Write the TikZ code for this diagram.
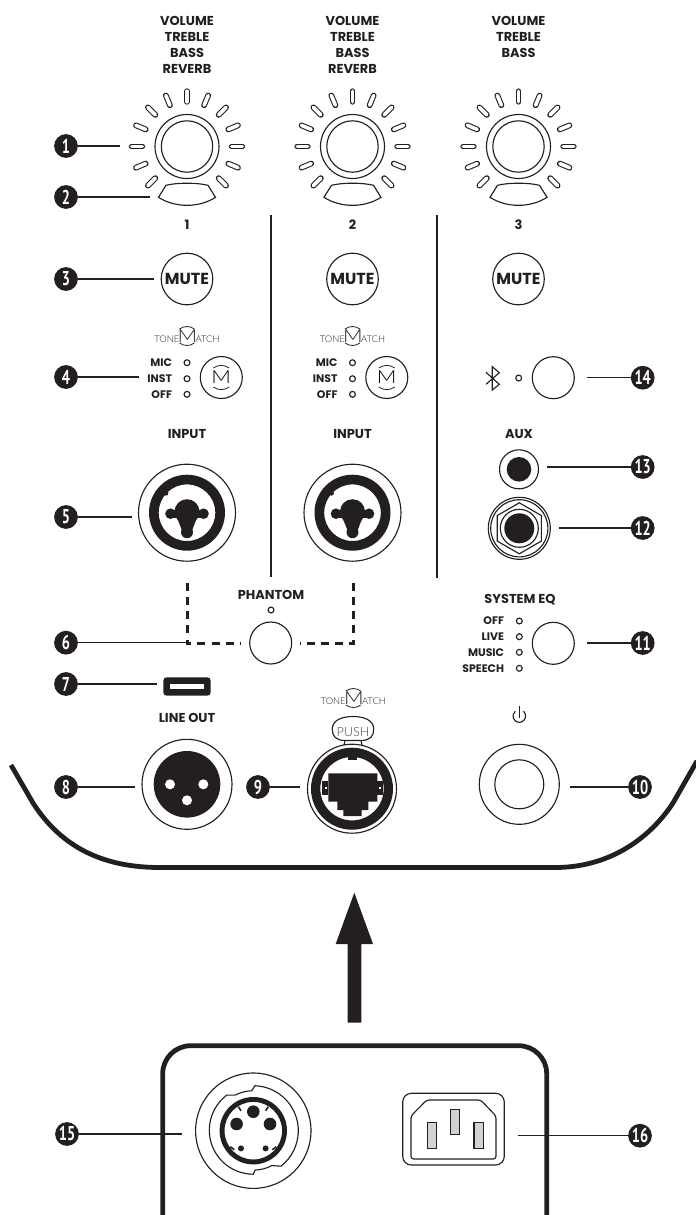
\documentclass[tikz,border=0pt]{standalone}
\usepackage{graphicx}
\usepackage{fontspec}
\setmainfont{Poppins}
\newfontfamily\labelfont{Poppins Bold}
\newfontfamily\logofont{Lato Light}
\newfontfamily\badgefont{PT Sans}
\definecolor{panelblack}{HTML}{231F20}
\newcommand{\badgenum}[1]{\scalebox{.72}[1]{\bfseries #1}}
\newcommand{\logoM}{\scalebox{1.2}[1]{\fontsize{13.5}{14}\selectfont M}}
\tikzset{
  panelline/.style={draw=panelblack, line width=.85pt},
  leader/.style={draw=panelblack, line width=1.1pt},
  badge/.style={circle, fill=panelblack, text=white, inner sep=0pt, minimum size=17.8pt, font=\badgefont\fontsize{15}{15}\selectfont},
  panellabel/.style={text=panelblack, inner sep=0pt, align=center, font=\labelfont\fontsize{9.7}{12}\selectfont},
  ledlabel/.style={text=panelblack, inner sep=0pt, anchor=east, font=\labelfont\fontsize{8.2}{9}\selectfont},
  led/.style={circle, panelline, inner sep=0pt, minimum size=4.4pt},
  panelbutton/.style={circle, panelline, inner sep=0pt, minimum size=31.5pt},
  logotext/.style={text=panelblack, inner sep=0pt, font=\logofont\fontsize{7}{8}\selectfont},
  phantomdash/.style={draw=panelblack, line width=2.2pt, dash pattern=on 6pt off 4.6pt},
  divider/.style={draw=panelblack, line width=1.7pt},
  thickbody/.style={draw=panelblack, line width=3.6pt},
}
\begin{document}
\begin{tikzpicture}[x=.75pt, y=-.75pt]
  \useasboundingbox (0,0) rectangle (696,1215);
  % Labels over the knobs.
  \node[panellabel] (knoblabelone) at (187,44.5) {VOLUME\\TREBLE\\BASS\\REVERB};
  \node[panellabel] (knoblabeltwo) at (352.5,44.5) {VOLUME\\TREBLE\\BASS\\REVERB};
  \node[panellabel] (knoblabelthree) at (518.5,36.5) {VOLUME\\TREBLE\\BASS};
  % Knobs with their ring of slots, the window below, channel number and mute.
  \foreach \cx/\cn/\ct in {187/one/1,352.5/two/2,518.5/three/3}{
    \begin{scope}[shift={(\cx,146.5)}]
      \draw[panelline] (0,0) circle[radius=32];
      \draw[panelline] (0,0) circle[radius=25.7];
      \foreach \ang in {-225,-202.5,...,45}
        \draw[draw=panelblack, line width=.8pt, double=white, double distance=2.7pt, line cap=round] (\ang:44.7) -- (\ang:55.3);
      \draw[panelline] (-28.5,50.8) -- (-21,38.8) .. controls (-10,36) and (10,36) .. (21,38.8) -- (28.5,50.8) .. controls (12,61.5) and (-12,61.5) .. cycle;
    \end{scope}
    \node[panellabel] (channel\cn) at (\cx,225) {\ct};
    \node[panelbutton, minimum size=38.7pt, text=panelblack, font=\labelfont\fontsize{12}{12}\selectfont] (mute\cn) at (\cx,279) {MUTE};
  }
  % Dividers.
  \coordinate (dividerlefttop) at (270.7,215);
  \coordinate (dividerleftend) at (270.7,577);
  \coordinate (dividerrighttop) at (437,215);
  \coordinate (dividerrightend) at (437,578);
  \draw[divider] (dividerlefttop) -- (dividerleftend);
  \draw[divider] (dividerrighttop) -- (dividerrightend);
  % Input selector and combo jack of channels 1 and 2.
  \foreach \cx/\cn in {187/one,352.5/two}{
    \node[logotext] (tonelogo\cn) at (\cx,336) {TONE\kern-1.2pt\logoM\kern-1.2pt ATCH};
    \draw[panelline, line width=.6pt] (\cx-7.5,329) .. controls (\cx-3,325.7) and (\cx+3,325.7) .. (\cx+7.5,329);
    \draw[panelline, line width=.6pt] (\cx-7.5,343) .. controls (\cx-3,346.3) and (\cx+3,346.3) .. (\cx+7.5,343);
    \node[ledlabel] (mic\cn) at (\cx-14.7,362.7) {MIC};
    \node[ledlabel] (inst\cn) at (\cx-14.7,378.7) {INST};
    \node[ledlabel] (off\cn) at (\cx-14.7,394.3) {OFF};
    \node[led] (micled\cn) at (\cx,362.7) {};
    \node[led] (instled\cn) at (\cx,378.7) {};
    \node[led] (offled\cn) at (\cx,394.3) {};
    \node[panelbutton, font=\logofont] (matchbtn\cn) at (\cx+34.3,377.5) {\logoM};
    \draw[panelline, line width=.6pt] (\cx+26.3,368) .. controls (\cx+31.5,364.5) and (\cx+37.1,364.5) .. (\cx+42.3,368);
    \draw[panelline, line width=.6pt] (\cx+26.3,387) .. controls (\cx+31.5,390.5) and (\cx+37.1,390.5) .. (\cx+42.3,387);
    \node[panellabel] (input\cn) at (\cx,434) {INPUT};
    \begin{scope}[shift={(\cx,512.7)}]
      \draw[panelline] (0,0) circle[radius=48.5];
      \fill[panelblack, even odd rule] (0,0) circle[radius=38] (0,0) circle[radius=28.3];
      \fill[panelblack] (0,-1) circle[radius=12.5];
      \fill[panelblack] (-16.5,1) circle[radius=5.3];
      \fill[panelblack] (16.5,1) circle[radius=5.3];
      \fill[panelblack] (0,19.5) circle[radius=6];
      \fill[panelblack] (-16,-3) rectangle (16,5);
      \fill[panelblack] (-10,5) -- (-4.5,19) -- (4.5,19) -- (10,5) -- cycle;
      \fill[panelblack] (-21,-19.5) circle[radius=2.4];
    \end{scope}
  }
  % Bluetooth.
  \draw[panelline] (486,372.3) -- (499.3,384.3) -- (492.3,390) -- (492.3,366.7) -- (499.3,372.7) -- (486,384.3);
  \node[led] (bluetoothled) at (518.7,378) {};
  \node[panelbutton] (bluetoothbtn) at (553.3,377.7) {};
  % Aux and jack.
  \node[panellabel] (auxlabel) at (519,434.3) {AUX};
  \draw[panelline] (519,469.3) circle[radius=19.5];
  \fill[panelblack] (519,469.3) circle[radius=12.3];
  \begin{scope}[shift={(519.3,528.3)}]
    \draw[panelline] (0,0) circle[radius=31];
    \draw[panelline] (0,0) circle[radius=28.6];
    \draw[panelline] (90:25.5) -- (30:25.5) -- (-30:25.5) -- (-90:25.5) -- (-150:25.5) -- (150:25.5) -- cycle;
    \draw[panelline] (0,0) circle[radius=19];
    \fill[panelblack] (0,0) circle[radius=15];
  \end{scope}
  % Phantom power.
  \node[panellabel] (phantomlabel) at (271,595) {PHANTOM};
  \node[led] (phantomled) at (271,610) {};
  \node[panelbutton] (phantombtn) at (270.7,643) {};
  \coordinate (phantomleft) at (187.3,583);
  \coordinate (phantomleftcorner) at (187.3,643.5);
  \coordinate (phantomleftend) at (241,643.5);
  \coordinate (phantomright) at (353.3,583);
  \coordinate (phantomrightcorner) at (353.3,643.5);
  \coordinate (phantomrightend) at (300,643.5);
  \draw[phantomdash] (phantomleft) -- (phantomleftcorner) -- (phantomleftend);
  \draw[phantomdash] (phantomright) -- (phantomrightcorner) -- (phantomrightend);
  % System EQ.
  \node[panellabel] (eqlabel) at (520,599.3) {SYSTEM EQ};
  \foreach \ry/\rt/\rn in {621/OFF/off,636.7/LIVE/live,652.3/MUSIC/music,668.3/SPEECH/speech}{
    \node[ledlabel] (eq\rn) at (504.3,\ry) {\rt};
    \node[led] (eqled\rn) at (519.3,\ry) {};
  }
  \node[panelbutton] (eqbtn) at (553.3,643.3) {};
  % USB.
  \fill[panelblack, rounded corners=2.5pt] (163.3,677.3) rectangle (210.7,695.7);
  \fill[white] (170,684) rectangle (204,688.7);
  % Line out.
  \node[panellabel] (lineoutlabel) at (187,717.7) {LINE OUT};
  \draw[panelline] (187,784.3) circle[radius=45];
  \fill[panelblack] (187,784.3) circle[radius=33.3];
  \fill[white] (170,784.3) circle[radius=5];
  \fill[white] (203.3,784.3) circle[radius=5];
  \fill[white] (187,800.3) circle[radius=5];
  % Network socket.
  \node[logotext] (tonelogothree) at (353.3,698) {TONE\kern-1.2pt\logoM\kern-1.2pt ATCH};
  \draw[panelline, line width=.6pt] (345.8,691) .. controls (350.3,687.7) and (356.3,687.7) .. (360.8,691);
  \draw[panelline, line width=.6pt] (345.8,705) .. controls (350.3,708.3) and (356.3,708.3) .. (360.8,705);
  \draw[panelline] (345,740.5) .. controls (336,740.5) and (332,736) .. (332.3,729) .. controls (332.5,720) and (342,716.5) .. (353,716.5) .. controls (364,716.5) and (373.5,720) .. (373.7,729) .. controls (374,736) and (370,740.5) .. (361,740.5) -- cycle;
  \draw[panelline] (345,740.5) -- (344,745);
  \draw[panelline] (361,740.5) -- (362,745);
  \node[text=panelblack!85, inner sep=0pt, font=\logofont\fontsize{9.5}{10}\selectfont] (pushlabel) at (353,732.5) {PUSH};
  \begin{scope}[shift={(352,788.7)}]
    \draw[panelline, fill=white] (0,0) circle[radius=44.5];
    \fill[panelblack, even odd rule] (0,0) circle[radius=41] (0,0) circle[radius=31.7];
    \fill[panelblack] (-23.7,-15.4) -- (25.3,-15.4) -- (25.3,13) -- (16.3,13) -- (16.3,21.3) -- (9.7,21.3) -- (9.7,27.3) -- (-8.7,27.3) -- (-8.7,21.3) -- (-14.7,21.3) -- (-14.7,13) -- (-23.7,13) -- cycle;
    \fill[panelblack] (-30,-8) rectangle (-23.7,6.3);
    \fill[panelblack] (25.3,-8) rectangle (31,6.3);
    \fill[white] (-27,-1.5) rectangle (-25,-.2);
    \fill[white] (26.6,-1.5) rectangle (28.6,-.2);
    \fill[panelblack] (-3.7,-32) rectangle (4.7,-28.7);
  \end{scope}
  % Power.
  \draw[panelline] (519.3,716) ++(-50:6.3) arc[start angle=-50, end angle=230, radius=6.3];
  \draw[panelline] (519.3,706) -- (519.3,717.5);
  \draw[panelline] (519.3,784.3) circle[radius=40];
  \draw[panelline] (519.3,784.3) circle[radius=24.5];
  % Outline of the body and the arrow.
  \draw[thickbody] (11,765) -- (33,803) .. controls (60,845) and (100,867.5) .. (160,867.5) -- (555,867.5) .. controls (610,867.5) and (650,838) .. (673,803) -- (697,761);
  \fill[panelblack] (354.3,892.7) -- (373,944) -- (361.3,944) -- (361.3,1022.7) -- (347.7,1022.7) -- (347.7,944) -- (335.7,944) -- cycle;
  % Rear panel.
  \draw[thickbody, rounded corners=21pt] (162.7,1225) -- (162.7,1045.7) -- (546.7,1045.7) -- (546.7,1225);
  \begin{scope}[shift={(253.3,1130.7)}]
    \draw[panelline] (0,0) circle[radius=57.7];
    \draw[panelline] (-88:45) arc[start angle=-88, end angle=52, radius=45] -- (62:39.5) arc[start angle=62, end angle=88, radius=38.5] -- (90:43.5) arc[start angle=90, end angle=233, radius=44] -- (243:40) arc[start angle=243, end angle=268, radius=39.5] -- cycle;
    \fill[panelblack, even odd rule] (0,0) circle[radius=33.7] (0,0) circle[radius=28.8];
    \fill[panelblack] (0,-19) circle[radius=6.3];
    \fill[panelblack] (-16.7,-6.7) circle[radius=6.3];
    \fill[panelblack] (16.7,-6.7) circle[radius=6.3];
    \fill[panelblack] (-12.3,17.7) circle[radius=3];
    \fill[panelblack] (12.3,17.7) circle[radius=3];
    \draw[panelblack, line width=1.2pt] (-15,-24) -- (-12.3,-20);
    \draw[panelblack, line width=1.2pt] (15,-24) -- (12.3,-20);
    \draw[panelblack, line width=1.2pt] (-23,16) -- (-19,19);
    \draw[panelblack, line width=1.2pt] (23,16) -- (19,19);
  \end{scope}
  \draw[panelline, rounded corners=6.5pt] (402.7,1093.3) rectangle (504.3,1165);
  \draw[panelline, rounded corners=2pt] (411,1116) -- (426.7,1100) -- (480.7,1100) -- (496,1116) -- (496,1159) -- (411,1159) -- cycle;
  \draw[panelline, fill=panelblack!20] (427.3,1122.7) rectangle (436.7,1148.3);
  \draw[panelline, fill=panelblack!20] (450.3,1109.3) rectangle (459.7,1134.3);
  \draw[panelline, fill=panelblack!20] (474,1122.7) rectangle (483.3,1148.3);
  % Number badges and their leaders.
  \foreach \bn/\bx/\by/\ex/\ey/\bt in {one/66/146/120/146/1,two/66/197/150/197/2,three/66/279/154/279/3,four/66/377/139/377/4,five/66/517/132/517/5,six/66/642.7/187/642.7/6,seven/66/684/156.7/684/7,eight/66/787/135/787/8,nine/258/787/300/787/9,ten/640/787/570/787/10,eleven/642.7/643/586.7/643/11,twelve/642.7/528/559/528/12,thirteen/642.7/467/546.7/467/13,fourteen/642.7/377.7/586.7/377.7/14,fifteen/67/1134/181.7/1134/15,sixteen/640/1135.7/518/1135.7/16}{
    \node[badge] (badge\bn) at (\bx,\by) {\badgenum{\bt}};
    \coordinate (end\bn) at (\ex,\ey);
    \draw[leader] (badge\bn) -- (end\bn);
  }
\end{tikzpicture}
\end{document}
